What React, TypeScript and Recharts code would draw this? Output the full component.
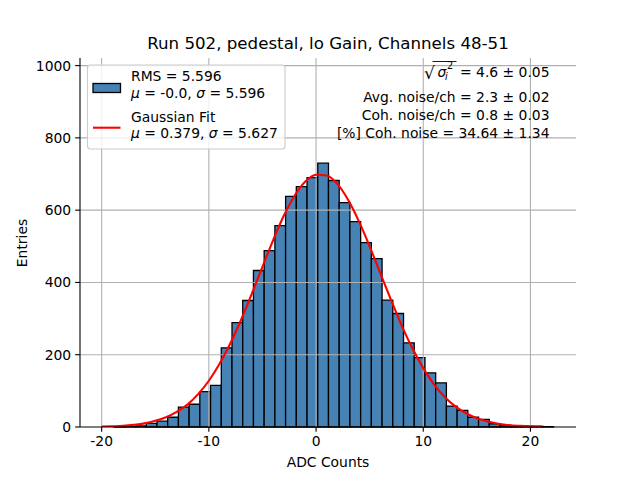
import { ComposedChart, Line, XAxis, YAxis, ReferenceArea, ReferenceLine } from "recharts";

// histogram bins (left edge of each bin, plus the final right edge)
const binEdges = [
  -19.84, -18.84, -17.84, -16.84, -15.84, -14.84, -13.84, -12.84, -11.84, -10.84,
  -9.84, -8.84, -7.84, -6.84, -5.84, -4.84, -3.84, -2.84, -1.84, -0.84,
  0.16, 1.16, 2.16, 3.16, 4.16, 5.16, 6.16, 7.16, 8.16, 9.16,
  10.16, 11.16, 12.16, 13.16, 14.16, 15.16, 16.16, 17.16, 18.16, 19.16,
  20.16, 21.16, 22.16,
];
const binCounts = [
  0, 1, 1, 3, 10, 16, 27, 55, 63, 98,
  115, 219, 289, 350, 433, 488, 557, 638, 665, 690,
  730, 682, 621, 568, 510, 466, 351, 314, 233, 192,
  150, 122, 58, 46, 27, 21, 9, 5, 3, 2,
  2, 1,
];

// gaussian fit curve
const fitX = [
  -20, -19, -18, -17, -16, -15, -14, -13, -12, -11, -10, -9, -8, -7, -6, -5, -4, -3, -2, -1,
  0, 1, 2, 3, 4, 5, 6, 7, 8, 9, 10, 11, 12, 13, 14, 15, 16, 17, 18, 19, 20, 21,
];
const fitY = [
  1, 2, 3.4, 6, 10, 17, 27, 42, 62, 91, 128, 175, 231, 296, 368, 443, 517, 585, 640, 679,
  698, 696, 672, 628, 569, 500, 425, 351, 280, 217, 163, 118, 83, 57, 38, 24, 15, 9, 5, 3, 1.6, 0.9,
];

const xTicks = [-20, -10, 0, 10, 20];
const yTicks = [0, 200, 400, 600, 800, 1000];

const statLines = [
  "Avg. noise/ch = 2.3 \u00b1 0.02",
  "Coh. noise/ch = 0.8 \u00b1 0.03",
  "[%] Coh. noise = 34.64 \u00b1 1.34",
];

const FONT = "DejaVu Sans";
const FS = 13.89;
const tickStyle = { fill: "#000", fontSize: FS, fontFamily: FONT };

export default function App() {
  const data = fitX.map((x, i) => ({ x, fit: fitY[i] }));

  return (
    <div style={{ position: "absolute", left: 0, top: 0, width: 640, height: 480, background: "#fff" }}>
      <ComposedChart
        width={640}
        height={480}
        data={data}
        margin={{ top: 58, right: 64, bottom: 22, left: 20 }}
      >
        <XAxis
          dataKey="x"
          type="number"
          domain={[-22.02, 24.25]}
          allowDataOverflow
          ticks={xTicks}
          height={31}
          tickSize={4.86}
          tickMargin={4.5}
          tick={tickStyle}
          axisLine={{ stroke: "#000", strokeWidth: 1.1 }}
          tickLine={{ stroke: "#000", strokeWidth: 1.1 }}
        />
        <XAxis
          xAxisId="top"
          orientation="top"
          type="number"
          domain={[-22.02, 24.25]}
          height={0}
          tick={false}
          tickLine={false}
          axisLine={{ stroke: "#000", strokeWidth: 1.1 }}
        />
        <YAxis
          type="number"
          domain={[0, 1021]}
          allowDataOverflow
          ticks={yTicks}
          width={60}
          tickSize={4.86}
          tickMargin={4}
          tick={tickStyle}
          axisLine={{ stroke: "#000", strokeWidth: 1.1 }}
          tickLine={{ stroke: "#000", strokeWidth: 1.1 }}
        />
        <YAxis
          yAxisId="right"
          orientation="right"
          type="number"
          domain={[0, 1021]}
          width={0}
          tick={false}
          tickLine={false}
          axisLine={{ stroke: "#000", strokeWidth: 1.1 }}
        />
        {binCounts.map((c, i) =>
          c > 0 ? (
            <ReferenceArea
              key={"b" + i}
              x1={binEdges[i]}
              x2={binEdges[i + 1]}
              y1={0}
              y2={c}
              fill="#4682b4"
              fillOpacity={1}
              stroke="#000"
              strokeWidth={1.3}
              strokeOpacity={1}
            />
          ) : null
        )}
        {xTicks.map((t) => (
          <ReferenceLine key={"gx" + t} x={t} stroke="#b0b0b0" strokeWidth={1.1} />
        ))}
        {yTicks.slice(1).map((t) => (
          <ReferenceLine key={"gy" + t} y={t} stroke="#b0b0b0" strokeWidth={1.1} />
        ))}
        <Line
          dataKey="fit"
          type="monotone"
          stroke="#ff0000"
          strokeWidth={2.1}
          dot={false}
          isAnimationActive={false}
        />
      </ComposedChart>

      <svg
        width={640}
        height={480}
        style={{ position: "absolute", left: 0, top: 0, pointerEvents: "none" }}
        fontFamily={FONT}
      >
        <text x={328} y={49} textAnchor="middle" fontSize={16.67} fill="#000">
          Run 502, pedestal, lo Gain, Channels 48-51
        </text>
        <text x={328} y={467} textAnchor="middle" fontSize={FS} fill="#000">
          ADC Counts
        </text>
        <text
          x={27}
          y={243}
          textAnchor="middle"
          fontSize={FS}
          fill="#000"
          transform="rotate(-90 27 243)"
        >
          Entries
        </text>

        {/* legend */}
        <rect x={87.5} y={65} width={197.5} height={84} rx={3} fill="#fff" fillOpacity={0.8} stroke="#cccccc" strokeWidth={1.1} />
        <rect x={93} y={83.5} width={27.5} height={9} fill="#4682b4" stroke="#000" strokeWidth={1.3} />
        <line x1={93} y1={127.7} x2={120.5} y2={127.7} stroke="#ff0000" strokeWidth={2.1} />
        <g fontSize={FS} fill="#000">
          <text x={131} y={81}>RMS = 5.596</text>
          <text x={131} y={97.5}>
            <tspan fontStyle="italic">{"\u03bc"}</tspan> = -0.0, <tspan fontStyle="italic">{"\u03c3"}</tspan> = 5.596
          </text>
          <text x={131} y={121.5}>Gaussian Fit</text>
          <text x={131} y={138}>
            <tspan fontStyle="italic">{"\u03bc"}</tspan> = 0.379, <tspan fontStyle="italic">{"\u03c3"}</tspan> = 5.627
          </text>
        </g>

        {/* stats */}
        <g fontSize={FS} fill="#000">
          <text x={424} y={78.5} fontSize={17}>{"\u221a"}</text>
          <line x1={432.5} y1={61.5} x2={456.5} y2={61.5} stroke="#000" strokeWidth={0.9} />
          <text x={437.5} y={77} fontStyle="italic">{"\u03c3"}</text>
          <text x={445} y={79.5} fontStyle="italic" fontSize={9.7}>i</text>
          <text x={447} y={68.5} fontSize={9.7}>2</text>
          <text x={549.5} y={77} textAnchor="end">= 4.6 {"\u00b1"} 0.05</text>
          {statLines.map((s, i) => (
            <text key={i} x={549.5} y={101.5 + i * 18.4} textAnchor="end">
              {s}
            </text>
          ))}
        </g>
      </svg>
    </div>
  );
}
